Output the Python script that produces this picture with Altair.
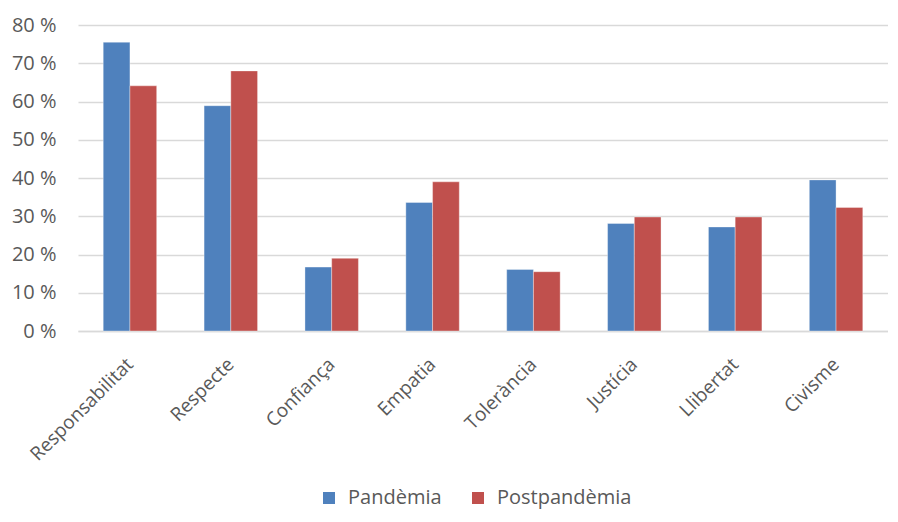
import altair as alt
import pandas as pd

categories = ["Responsabilitat", "Respecte", "Confiança", "Empatia", "Tolerància",
              "Justícia", "Llibertat", "Civisme"]
pandemia = [75.5, 58.9, 16.7, 33.6, 16.1, 28.1, 27.2, 39.5]
postpandemia = [64.1, 68.0, 19.0, 39.0, 15.5, 29.8, 29.8, 32.3]
series = ["Pandèmia", "Postpandèmia"]
colors = ["#4F81BD", "#C0504D"]

rows = []
for c, a, b in zip(categories, pandemia, postpandemia):
    rows.append({"cat": c, "serie": series[0], "val": a / 100})
    rows.append({"cat": c, "serie": series[1], "val": b / 100})
df = pd.DataFrame(rows)

FONT = "Open Sans"
GRAY = "#595959"

chart = alt.Chart(df).mark_bar(stroke="#ffffff", strokeOpacity=0.35, strokeWidth=1).encode(
    x=alt.X("cat:N", sort=categories, title=None,
            scale=alt.Scale(paddingInner=0.47, paddingOuter=0.25),
            axis=alt.Axis(labelAngle=-45, labelAlign="right", labelBaseline="middle",
                          labelFontSize=19, labelColor=GRAY, labelFont=FONT,
                          ticks=False, domainColor="#D9D9D9", domainWidth=1.5,
                          labelPadding=30)),
    xOffset=alt.XOffset("serie:N", sort=series),
    y=alt.Y("val:Q", title=None,
            scale=alt.Scale(domain=[0, 0.8]),
            axis=alt.Axis(values=[0, 0.1, 0.2, 0.3, 0.4, 0.5, 0.6, 0.7, 0.8],
                          labelExpr="format(datum.value*100, 'd') + ' %'",
                          labelFontSize=20, labelColor=GRAY, labelFont=FONT,
                          ticks=False, domain=False, gridColor="#D9D9D9",
                          gridWidth=1.5, labelPadding=22)),
    color=alt.Color("serie:N", sort=series, title=None,
                    scale=alt.Scale(domain=series, range=colors),
                    legend=alt.Legend(orient="none", direction="horizontal",
                                      legendX=241, legendY=463,
                                      symbolType="square", symbolSize=144,
                                      symbolStrokeWidth=0,
                                      labelFontSize=20, labelColor=GRAY, labelFont=FONT,
                                      columnPadding=26, labelOffset=9)),
).properties(
    width=810, height=306,
    autosize=alt.AutoSizeParams(type="none"),
    padding={"left": 70, "top": 17, "right": 0, "bottom": 183},
).configure_view(stroke=None)

chart.save("out.html", embed_options={"renderer": "svg", "actions": False})
